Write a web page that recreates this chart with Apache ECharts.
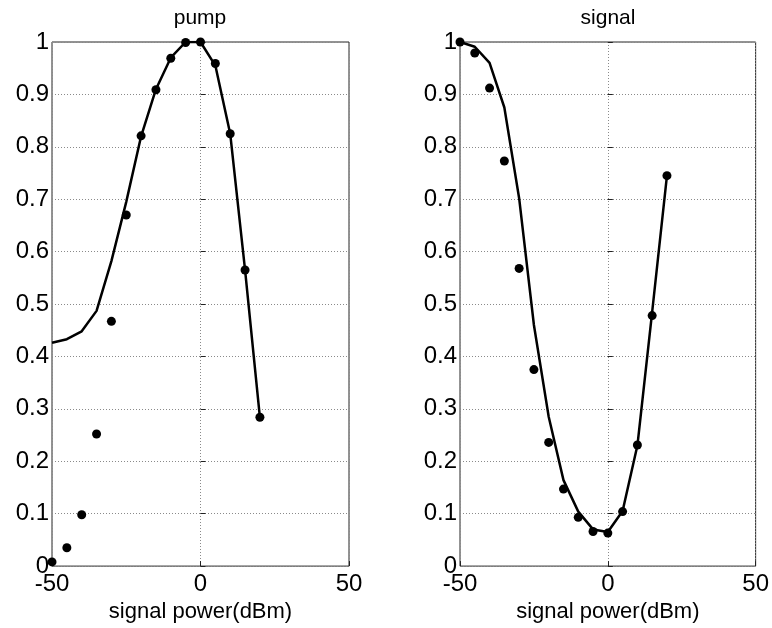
<!DOCTYPE html>
<html>
<head>
<meta charset="utf-8">
<script src="https://cdn.jsdelivr.net/npm/echarts@6/dist/echarts.min.js"></script>
<style>
html,body{margin:0;padding:0;background:#fff;}
#main{width:772px;height:628px;}
</style>
</head>
<body>
<div id="main"></div>
<script>
var xValues = [-50,-45,-40,-35,-30,-25,-20,-15,-10,-5,0,5,10,15,20];
var pumpLine = [0.426,0.433,0.448,0.487,0.582,0.695,0.82,0.91,0.97,1.0,1.0,0.955,0.825,0.565,0.284];
var pumpDots = [0.008,0.035,0.098,0.252,0.467,0.670,0.821,0.909,0.969,0.999,1.0,0.959,0.825,0.565,0.284];
var signalLine = [1.0,0.991,0.960,0.875,0.702,0.46,0.285,0.164,0.104,0.070,0.065,0.105,0.23,0.485,0.745];
var signalDots = [1.0,0.979,0.912,0.773,0.568,0.375,0.236,0.147,0.093,0.066,0.063,0.104,0.231,0.478,0.745];
var titles = ['pump','signal'];
var xName = 'signal power(dBm)';

function pairs(xs, ys){ return xs.map(function(x,i){ return [x, ys[i]]; }); }

var FONT = 'Arial, "Liberation Sans", sans-serif';
var grids = [
  {left:52, right:423, top:42, bottom:56},
  {left:460, right:15, top:42, bottom:56}
];
var chart = echarts.init(document.getElementById('main'));

function xAxisDef(i){
  return {
    gridIndex:i, type:'value', min:-50, max:50, interval:50,
    name:xName, nameLocation:'middle', nameGap:33,
    nameTextStyle:{fontFamily:FONT, fontSize:22, color:'#000'},
    axisLine:{show:false},
    axisTick:{show:true, inside:true, length:5, lineStyle:{color:'#222'}},
    axisLabel:{fontFamily:FONT, fontSize:24, color:'#000', margin:6},
    splitLine:{show:true, lineStyle:{color:'#8a8a8a', type:[1,2], width:1}}
  };
}
function yAxisDef(i){
  return {
    gridIndex:i, type:'value', min:0, max:1, interval:0.1,
    axisLine:{show:false},
    axisTick:{show:true, inside:true, length:5, lineStyle:{color:'#222'}},
    axisLabel:{fontFamily:FONT, fontSize:24, color:'#000', margin:3},
    splitLine:{show:true, lineStyle:{color:'#8a8a8a', type:[1,2], width:1}}
  };
}

var option = {
  backgroundColor:'#fff',
  animation:false,
  title:[
    {text:titles[0], left:200, top:8, textAlign:'center', padding:0,
     textStyle:{fontFamily:FONT, fontSize:21, fontWeight:'normal', color:'#000'}},
    {text:titles[1], left:608, top:8, textAlign:'center', padding:0,
     textStyle:{fontFamily:FONT, fontSize:21, fontWeight:'normal', color:'#000'}}
  ],
  grid: grids.map(function(g){ return Object.assign({show:true, borderColor:'#262626', borderWidth:1, backgroundColor:'transparent'}, g); }),
  xAxis:[xAxisDef(0), xAxisDef(1)],
  yAxis:[yAxisDef(0), yAxisDef(1)],
  series:[
    {type:'line', xAxisIndex:0, yAxisIndex:0, data:pairs(xValues,pumpLine), showSymbol:false,
     lineStyle:{color:'#000', width:2.5}, z:3},
    {type:'scatter', xAxisIndex:0, yAxisIndex:0, data:pairs(xValues,pumpDots), symbol:'circle', symbolSize:9,
     itemStyle:{color:'#000', opacity:1}, z:4},
    {type:'line', xAxisIndex:1, yAxisIndex:1, data:pairs(xValues,signalLine), showSymbol:false,
     lineStyle:{color:'#000', width:2.5}, z:3},
    {type:'scatter', xAxisIndex:1, yAxisIndex:1, data:pairs(xValues,signalDots), symbol:'circle', symbolSize:9,
     itemStyle:{color:'#000', opacity:1}, z:4}
  ]
};
chart.setOption(option);
</script>
</body>
</html>
